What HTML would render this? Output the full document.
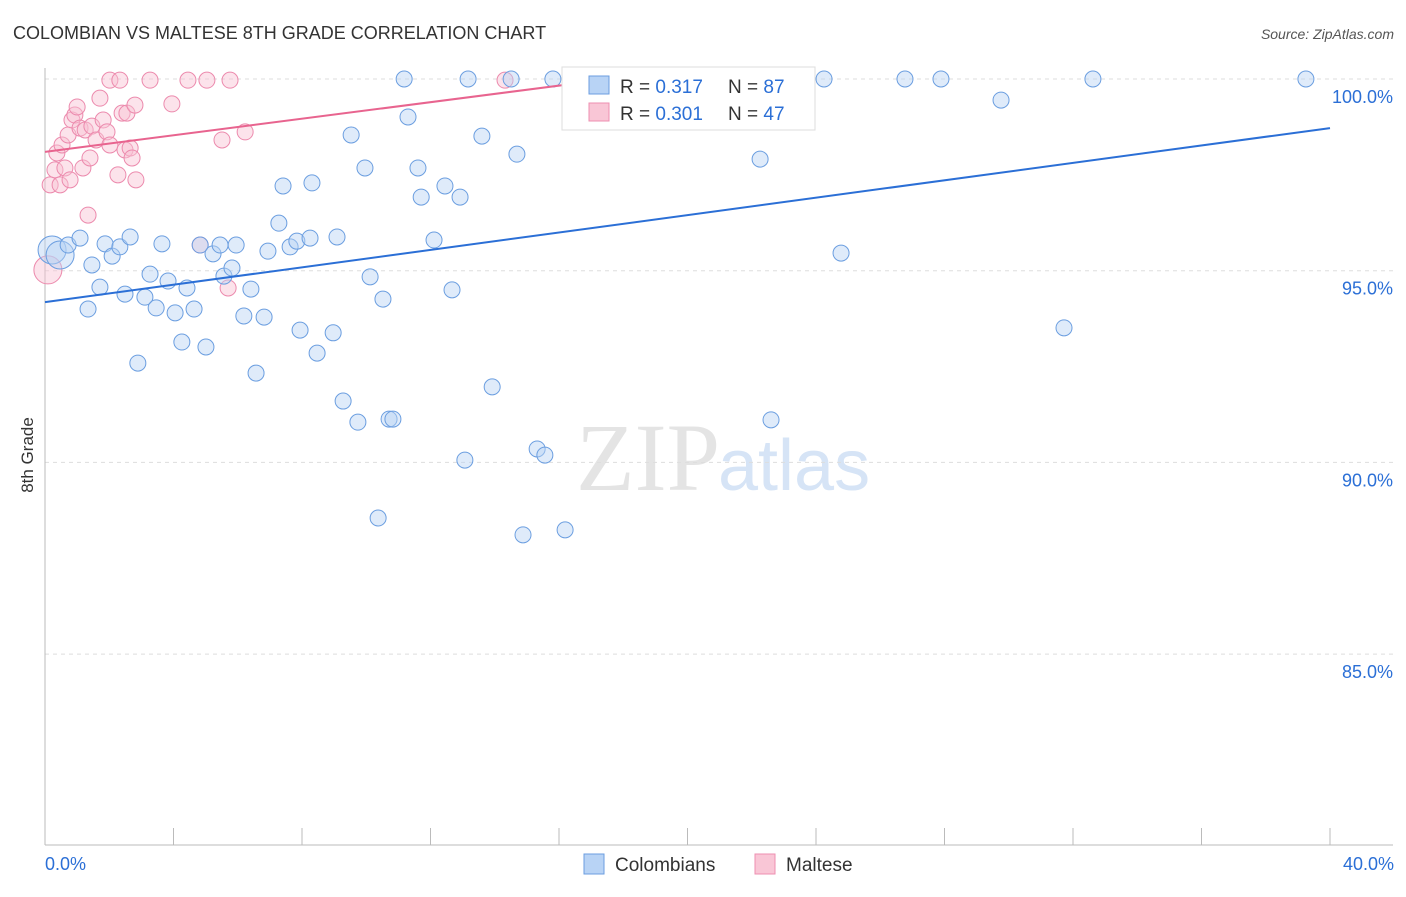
<!DOCTYPE html>
<html><head><meta charset="utf-8"><style>
body{margin:0;background:#fff;font-family:"Liberation Sans",sans-serif}
</style></head><body>
<svg id="chart" width="1406" height="892" xmlns="http://www.w3.org/2000/svg" font-family="Liberation Sans, sans-serif">
<text x="13" y="39" font-size="18" fill="#333">COLOMBIAN VS MALTESE 8TH GRADE CORRELATION CHART</text>
<text x="1394" y="39" font-size="14" fill="#555" font-style="italic" text-anchor="end">Source: ZipAtlas.com</text>
<text x="720" y="490" font-size="96" text-anchor="end" fill="#e4e4e4" font-family="Liberation Serif, serif">ZIP</text>
<text x="718" y="490" font-size="72" fill="#d6e4f6">atlas</text>
<text transform="translate(33,455) rotate(-90)" font-size="17" fill="#333" text-anchor="middle">8th Grade</text>
<g id="grid"></g><g id="axes"></g><g id="marks"></g>
<g>
<rect x="562" y="67" width="253" height="63" fill="#fff" stroke="#ddd"/>
<rect x="589" y="76" width="20" height="18" fill="#b8d3f5" stroke="#6b9ee0"/>
<text x="620" y="93" font-size="19" fill="#333">R = <tspan fill="#2b6fd6">0.317</tspan></text>
<text x="728" y="93" font-size="19" fill="#333">N = <tspan fill="#2b6fd6">87</tspan></text>
<rect x="589" y="103" width="20" height="18" fill="#f9c6d6" stroke="#ee8fb0"/>
<text x="620" y="120" font-size="19" fill="#333">R = <tspan fill="#2b6fd6">0.301</tspan></text>
<text x="728" y="120" font-size="19" fill="#333">N = <tspan fill="#2b6fd6">47</tspan></text>
</g>
<g>
<rect x="584" y="854" width="20" height="20" fill="#b8d3f5" stroke="#6b9ee0"/>
<text x="615" y="871" font-size="19" fill="#333">Colombians</text>
<rect x="755" y="854" width="20" height="20" fill="#f9c6d6" stroke="#ee8fb0"/>
<text x="786" y="871" font-size="19" fill="#333">Maltese</text>
</g>
</svg>
<script>
const yTicks=[100,95,90,85];
const yTickLabels=["100.0%","95.0%","90.0%","85.0%"];
const xTickVals=[0,4,8,12,16,20,24,28,32,36,40];
const blueX=[0.22,0.47,0.72,1.09,1.46,1.71,1.34,1.87,2.09,2.33,2.49,2.65,2.89,3.11,3.27,3.46,3.64,3.83,4.05,4.26,4.42,4.64,4.83,5.01,5.23,5.45,5.57,5.82,5.95,6.19,6.41,6.57,6.82,6.94,7.28,7.41,7.63,7.84,7.94,8.25,8.31,8.47,8.97,9.09,9.28,9.53,9.74,9.96,10.12,10.37,10.52,10.71,10.83,11.18,11.30,11.61,11.71,12.11,12.45,12.67,12.92,13.07,13.17,13.60,13.92,14.51,14.69,14.88,15.32,15.56,15.81,16.19,17.62,22.26,22.60,24.25,24.78,26.77,27.89,29.76,31.72,32.62,39.25];
const blueY=[95.54,95.41,95.67,95.85,95.15,94.57,94.00,95.70,95.38,95.62,94.39,95.88,92.59,94.31,94.91,94.03,95.70,94.73,93.90,93.14,94.55,94.00,95.67,93.01,95.44,95.67,94.86,95.07,95.67,93.82,94.52,92.33,93.79,95.51,96.24,97.21,95.62,95.77,93.45,95.85,97.29,92.85,93.38,95.88,91.60,98.54,91.05,97.68,94.84,88.55,94.26,91.13,91.13,100,99.01,97.68,96.92,95.80,97.21,94.50,96.92,90.06,100,98.51,91.97,100,98.04,88.11,90.35,90.19,100,88.24,100,97.91,91.11,100,95.46,100,100,99.45,93.51,100,100];
const pinkX=[0.09,0.16,0.31,0.37,0.47,0.53,0.62,0.72,0.78,0.84,0.93,1.00,1.09,1.18,1.25,1.34,1.40,1.46,1.59,1.71,1.81,1.93,2.02,2.02,2.27,2.33,2.40,2.49,2.55,2.65,2.71,2.80,2.83,3.27,3.95,4.45,4.83,5.04,5.51,5.70,5.76,6.23,14.32,21.23];
const pinkY=[95.02,97.24,97.63,98.07,97.24,98.28,97.68,98.54,97.37,98.93,99.06,99.27,98.72,97.68,98.67,96.45,97.94,98.77,98.41,99.50,98.93,98.62,99.97,98.28,97.50,99.97,99.11,98.15,99.11,98.20,97.94,99.32,97.37,99.97,99.35,99.97,95.67,99.97,98.41,94.55,99.97,98.62,99.97,99.97];
const blueBig=[0,1];
const pinkBig=[0];
const blueLine=[[0,94.18],[40,98.72]];
const pinkLine=[[0,98.10],[17.6,100]];

const NS="http://www.w3.org/2000/svg";
const xs=v=>45+v/40*1285;
const ys=v=>79+(100-v)/5*191.7;
function mk(tag,attrs,parent){const e=document.createElementNS(NS,tag);for(const k in attrs)e.setAttribute(k,attrs[k]);document.getElementById(parent).appendChild(e);return e;}
yTicks.forEach((t,i)=>{
 const l=mk('line',{x1:45,x2:1393,y1:ys(t),y2:ys(t),stroke:'#ddd','stroke-dasharray':'4,4'},'grid');
 
 
 const tx=mk('text',{x:1393,y:ys(t)+24,'font-size':18,fill:'#2b6fd6','text-anchor':'end'},'axes');
 tx.textContent=yTickLabels[i];
 
 
});
const ax=mk('line',{x1:45,x2:45,y1:68,y2:845,stroke:'#bbb'},'axes');


const bx=mk('line',{x1:45,x2:1393,y1:845,y2:845,stroke:'#bbb'},'axes');


xTickVals.forEach(v=>{
 const t=mk('line',{x1:xs(v),x2:xs(v),y1:828,y2:845,stroke:'#bbb'},'axes');
 
 
});
[[0,'0.0%','start'],[40,'40.0%','end']].forEach(([v,s,a])=>{
 const t=mk('text',{x:xs(v)+(a==='end'?64:0),y:870,'font-size':18,fill:'#2b6fd6','text-anchor':a},'axes');
 t.textContent=s;
 
 
});
function dots(X,Y,big,fill,stroke,name){
 X.forEach((x,i)=>{
  const c=mk('circle',{cx:xs(x),cy:ys(Y[i]),r:big.includes(i)?14:8,fill:fill,'fill-opacity':0.45,stroke:stroke,'stroke-width':1},'marks');
  
  
 });
}
dots(pinkX,pinkY,pinkBig,'#f9c0d3','#ec8aad','maltese-point');
dots(blueX,blueY,blueBig,'#b8d3f5','#6b9ee0','colombian-point');
const bl=mk('line',{x1:xs(blueLine[0][0]),y1:ys(blueLine[0][1]),x2:xs(blueLine[1][0]),y2:ys(blueLine[1][1]),stroke:'#2b6fd6','stroke-width':2},'marks');


const pl=mk('line',{x1:xs(pinkLine[0][0]),y1:ys(pinkLine[0][1]),x2:xs(pinkLine[1][0]),y2:ys(pinkLine[1][1]),stroke:'#e8648f','stroke-width':2},'marks');


</script>
</body></html>
